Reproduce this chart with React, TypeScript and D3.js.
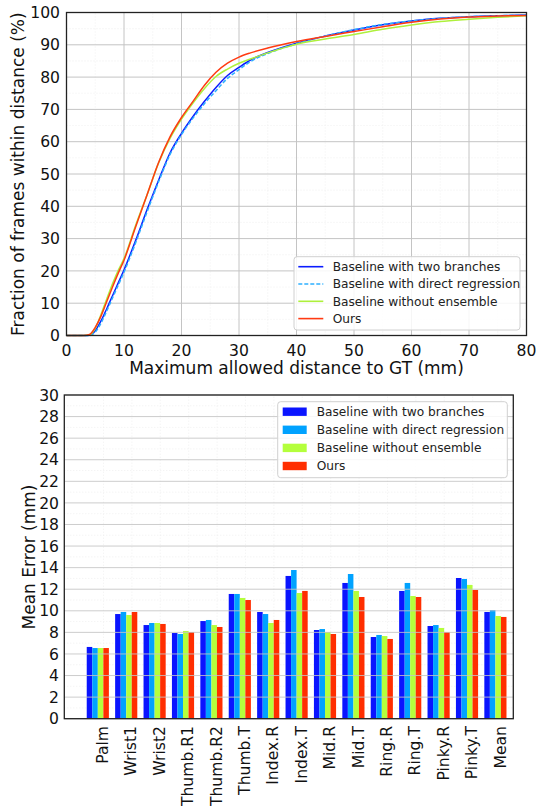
import React from "react";
import * as d3 from "d3";

const seriesNames = [
  "Baseline with two branches",
  "Baseline with direct regression",
  "Baseline without ensemble",
  "Ours",
];
const lineColors = ["#0a1cff", "#2eb0ff", "#aef03c", "#ff3a12"];
const barColors = ["#0a14ff", "#00a2ff", "#b4ff3c", "#ff2e00"];

const distances = [0, 3, 4, 5, 6, 7, 8, 9, 10, 12, 14, 16, 18, 20, 22, 24, 26, 28, 30, 32, 35, 40, 45, 50, 55, 60, 65, 70, 75, 80];
const pctTwoBranches = [0, 0, 0.1, 1.5, 4.5, 8.3, 12.3, 16.3, 20.3, 29.3, 38.9, 48, 56.5, 62.6, 67.8, 72.5, 76.8, 80.5, 83, 85.3, 87.6, 90.5, 92.7, 94.6, 96.2, 97.4, 98.2, 98.7, 99.0, 99.2];
const pctDirect = [0, 0, 0, 1.0, 3.8, 7.6, 11.6, 15.6, 19.6, 28.6, 38.2, 47.5, 56, 62.2, 67.3, 71.8, 75.8, 79.6, 82.3, 84.8, 87.3, 90.3, 92.7, 94.7, 96.3, 97.4, 98.2, 98.7, 99.0, 99.2];
const pctNoEnsemble = [0, 0, 0.2, 2.2, 6.5, 11.3, 16, 20.2, 23.8, 34, 43.5, 53.3, 61, 67, 72, 76.5, 80.2, 82.5, 84.3, 85.6, 87.5, 90.2, 91.8, 93.2, 94.8, 96.1, 97.2, 97.9, 98.5, 99.0];
const pctOurs = [0, 0, 0.3, 2.5, 6, 10.5, 15, 19.3, 23.3, 33.5, 43.5, 53.5, 61.5, 67.5, 72.5, 77.5, 81.5, 84.3, 86.2, 87.5, 89, 91, 92.6, 94.1, 95.6, 97.0, 98.0, 98.6, 98.9, 99.1];
const curves = [pctTwoBranches, pctDirect, pctNoEnsemble, pctOurs];

const joints = ["Palm", "Wrist1", "Wrist2", "Thumb.R1", "Thumb.R2", "Thumb.T", "Index.R", "Index.T", "Mid.R", "Mid.T", "Ring.R", "Ring.T", "Pinky.R", "Pinky.T", "Mean"];
const errTwoBranches = [6.65, 9.7, 8.68, 7.94, 9.05, 11.56, 9.89, 13.23, 8.22, 12.58, 7.57, 11.84, 8.59, 13.04, 9.89];
const errDirect = [6.55, 9.89, 8.87, 7.85, 9.15, 11.56, 9.7, 13.78, 8.31, 13.41, 7.76, 12.58, 8.68, 12.95, 10.07];
const errNoEnsemble = [6.55, 9.61, 8.87, 8.13, 8.68, 11.19, 8.87, 11.65, 8.03, 11.84, 7.66, 11.37, 8.41, 12.4, 9.52];
const errOurs = [6.55, 9.89, 8.78, 8.03, 8.5, 11.0, 9.15, 11.84, 7.85, 11.28, 7.39, 11.28, 8.03, 11.93, 9.43];
const errors = [errTwoBranches, errDirect, errNoEnsemble, errOurs];

const topXTicks = [0, 10, 20, 30, 40, 50, 60, 70, 80];
const topYTicks = [0, 10, 20, 30, 40, 50, 60, 70, 80, 90, 100];
const botYTicks = d3.range(0, 31, 2);

const FONT = "DejaVu Sans, sans-serif";

export default function App() {
  // Top chart
  const tx = d3.scaleLinear().domain([0, 80]).range([66.5, 526.5]);
  const ty = d3.scaleLinear().domain([0, 100]).range([335.5, 12.5]);
  const line = d3
    .line<number>()
    .x((_, i) => tx(distances[i]))
    .y((d) => ty(d))
    .curve(d3.curveMonotoneX);

  // Bottom chart
  const bx = d3.scaleLinear().domain([-0.79, 15.02]).range([64.3, 513.3]);
  const by = d3.scaleLinear().domain([0, 30]).range([718.7, 395]);
  const barW = 0.195;
  const tickOff = 0.59;

  const gridMajor = "#c4c4c4";
  const gridMinor = "#ececec";
  const tickFs = 15.6;
  const labelFs = 17;

  return (
    <svg width={536} height={808} style={{ position: "absolute", left: 0, top: 0, background: "#fff" }} fontFamily={FONT}>
      <rect x={0} y={0} width={536} height={808} fill="#fff" />
      {/* ===== TOP CHART ===== */}
      <g>
        {d3.range(5, 80, 10).map((v) => (
          <line key={"tmx" + v} x1={tx(v)} x2={tx(v)} y1={ty(0)} y2={ty(100)} stroke={gridMinor} strokeWidth={0.8} strokeDasharray="1,2" />
        ))}
        {d3.range(5, 100, 10).map((v) => (
          <line key={"tmy" + v} x1={tx(0)} x2={tx(80)} y1={ty(v)} y2={ty(v)} stroke={gridMinor} strokeWidth={0.8} strokeDasharray="1,2" />
        ))}
        {topXTicks.map((v) => (
          <line key={"tgx" + v} x1={tx(v)} x2={tx(v)} y1={ty(0)} y2={ty(100)} stroke={gridMajor} strokeWidth={1} />
        ))}
        {topYTicks.map((v) => (
          <line key={"tgy" + v} x1={tx(0)} x2={tx(80)} y1={ty(v)} y2={ty(v)} stroke={gridMajor} strokeWidth={1} />
        ))}
        {curves.map((c, i) => (
          <path
            key={"c" + i}
            d={line(c) || ""}
            fill="none"
            stroke={lineColors[i]}
            strokeWidth={1.5}
            strokeDasharray={i === 1 ? "4,2" : undefined}
          />
        ))}
        <rect x={66.5} y={12.5} width={460} height={323} fill="none" stroke="#222" strokeWidth={1.3} />
        {topXTicks.map((v) => (
          <text key={"txl" + v} x={tx(v)} y={355.5} fontSize={tickFs} textAnchor="middle" fill="#111">
            {v}
          </text>
        ))}
        {topYTicks.map((v) => (
          <text key={"tyl" + v} x={60} y={ty(v) + 5.6} fontSize={tickFs} textAnchor="end" fill="#111">
            {v}
          </text>
        ))}
        <text x={296.5} y={374} fontSize={labelFs} textAnchor="middle" fill="#111">
          Maximum allowed distance to GT (mm)
        </text>
        <text transform={`translate(23.5,174.2) rotate(-90)`} fontSize={labelFs} textAnchor="middle" fill="#111">
          Fraction of frames within distance (%)
        </text>
        {/* legend */}
        <rect x={294} y={256.7} width={226} height={73.3} rx={3} fill="#fff" fillOpacity={0.85} stroke="#d0d0d0" strokeWidth={1} />
        {seriesNames.map((n, i) => {
          const yy = 266.7 + i * 17.3;
          return (
            <g key={"tl" + i}>
              <line x1={298.3} x2={323.3} y1={yy} y2={yy} stroke={lineColors[i]} strokeWidth={1.6} strokeDasharray={i === 1 ? "4,2" : undefined} />
              <text x={332.7} y={yy + 4.4} fontSize={12.2} fill="#222">
                {n}
              </text>
            </g>
          );
        })}
      </g>

      {/* ===== BOTTOM CHART ===== */}
      <g>
        {d3.range(1, 30, 2).map((v) => (
          <line key={"bmy" + v} x1={64.3} x2={513.3} y1={by(v)} y2={by(v)} stroke={gridMinor} strokeWidth={0.8} strokeDasharray="1,2" />
        ))}
        {joints.map((_, j) => (
          <line key={"bvx" + j} x1={bx(j + tickOff)} x2={bx(j + tickOff)} y1={by(0)} y2={by(30)} stroke={gridMinor} strokeWidth={0.8} strokeDasharray="1,2" />
        ))}
        {errors.map((s, si) =>
          s.map((v, j) => (
            <rect
              key={`b${si}-${j}`}
              x={bx(j + si * barW)}
              y={by(v)}
              width={bx(barW) - bx(0)}
              height={by(0) - by(v)}
              fill={barColors[si]}
            />
          ))
        )}
        {botYTicks.map((v) => (
          <line key={"bgy" + v} x1={64.3} x2={513.3} y1={by(v)} y2={by(v)} stroke={gridMajor} strokeWidth={1} strokeOpacity={0.85} />
        ))}
        <rect x={64.3} y={395} width={449} height={323.7} fill="none" stroke="#222" strokeWidth={1.3} />
        {botYTicks.map((v) => (
          <text key={"byl" + v} x={59} y={by(v) + 5.6} fontSize={tickFs} textAnchor="end" fill="#111">
            {v}
          </text>
        ))}
        {joints.map((n, j) => (
          <text
            key={"bxl" + j}
            transform={`translate(${bx(j + tickOff) - 1},726) rotate(-90)`}
            fontSize={tickFs}
            textAnchor="end"
            dy="0.35em"
            fill="#111"
          >
            {n}
          </text>
        ))}
        <text transform={`translate(35,557) rotate(-90)`} fontSize={labelFs} textAnchor="middle" fill="#111">
          Mean Error (mm)
        </text>
        {/* legend */}
        <rect x={277.7} y={401.7} width={229.6} height={76} rx={3} fill="#fff" fillOpacity={0.85} stroke="#d0d0d0" strokeWidth={1} />
        {seriesNames.map((n, i) => {
          const yy = 411.7 + i * 18.1;
          return (
            <g key={"bl" + i}>
              <rect x={282.7} y={yy - 4.2} width={24} height={8.4} fill={barColors[i]} />
              <text x={316.7} y={yy + 4.4} fontSize={12.2} fill="#222">
                {n}
              </text>
            </g>
          );
        })}
      </g>
    </svg>
  );
}
